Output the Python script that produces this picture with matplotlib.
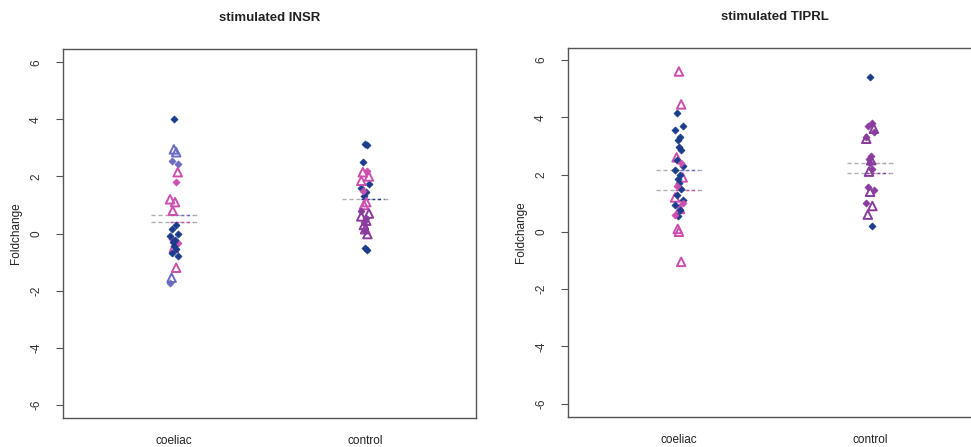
import matplotlib
matplotlib.use("Agg")
import matplotlib.pyplot as plt

plt.rcParams['font.family'] = ['Liberation Sans', 'DejaVu Sans']

groups = ["coeliac", "control"]
yticks = [-6, -4, -2, 0, 2, 4, 6]
titles = ["stimulated INSR", "stimulated TIPRL"]

# ---- INSR panel ----
insr_coeliac_navy = [4.02, 0.3, 0.15, 0.0, -0.1, -0.22, -0.3, -0.45, -0.55, -0.7, -0.8]
insr_coeliac_lavtri = [2.95, 2.85, -1.55]
insr_coeliac_lavdot = [2.55, 2.45, -1.75]
insr_coeliac_pinktri = [2.15, 1.2, 1.1, 0.8, -0.5, -1.2]
insr_coeliac_pinkdot = [1.8, -0.2, -0.35]
insr_coeliac_lines = [0.65, 0.42]

insr_control_navy = [3.15, 3.1, 2.5, 1.75, 1.6, 1.45, 1.3, -0.5, -0.58]
insr_control_pinktri = [2.15, 2.0, 1.85, 1.1, 1.0]
insr_control_pinkdot = [2.2, 1.5]
insr_control_purpletri = [0.7, 0.6, 0.45, 0.3, 0.15, -0.02]
insr_control_purpledot = [0.8, 0.55, 0.4, 0.1]
insr_control_lines = [1.2]

# ---- TIPRL panel ----
tiprl_coeliac_pinktri = [5.6, 4.45, 2.6, 1.9, 1.2, 0.8, 0.1, 0.0, -1.05]
tiprl_coeliac_navy = [4.15, 3.7, 3.55, 3.3, 3.2, 2.95, 2.85, 2.5, 2.3, 2.15, 2.0,
                      1.85, 1.7, 1.5, 1.3, 1.1, 0.95, 0.75, 0.55]
tiprl_coeliac_pinkdot = [2.4, 1.6, 1.0, 0.6]
tiprl_coeliac_lines = [2.15, 1.45]

tiprl_control_navy = [5.4, 0.2]
tiprl_control_purpledot = [3.8, 3.7, 3.5, 3.3, 2.65, 2.55, 2.4, 2.2, 1.55, 1.45, 1.0]
tiprl_control_purpletri = [3.6, 3.25, 2.5, 2.1, 1.4, 0.9, 0.6]
tiprl_control_lines = [2.4, 2.05]

NAVY = "#1b3c8c"
PINK = "#cc4fb0"
PURPLE = "#8a3c9e"
LAV = "#6a6cc0"
GREY = "#b0b0b0"

def jit(n, i0=0):
    pat = [0.0, 0.012, -0.012, 0.02, -0.02, 0.006, -0.006]
    return [pat[(i + i0) % len(pat)] for i in range(n)]

def dots(ax, xpos, vals, color, i0=0):
    xs = [xpos + j for j in jit(len(vals), i0)]
    ax.scatter(xs, vals, marker='D', s=13, color=color, edgecolors=color, linewidths=0.5, zorder=3)

def tris(ax, xpos, vals, color, i0=0):
    xs = [xpos + j for j in jit(len(vals), i0)]
    ax.scatter(xs, vals, marker='^', s=38, facecolors='none', edgecolors=color, linewidths=1.4, zorder=3)

def mlines(ax, xpos, vals, colors):
    for v, c in zip(vals, colors):
        ax.plot([xpos - 0.12, xpos + 0.12], [v, v], ls=(0, (3, 2)), color=GREY, lw=1.0, zorder=2)
        ax.plot([xpos - 0.02, xpos + 0.1], [v, v], ls=(0, (2, 2)), color=c, lw=1.0, zorder=2)

fig = plt.figure(figsize=(9.71, 4.47), dpi=100)
ax1 = fig.add_axes([63/971, 1-418/447, 413/971, 369/447])
ax2 = fig.add_axes([568/971, 1-417/447, 413/971, 369/447])

# INSR
tris(ax1, 1, insr_coeliac_lavtri, LAV)
dots(ax1, 1, insr_coeliac_lavdot, LAV, 2)
tris(ax1, 1, insr_coeliac_pinktri, PINK, 3)
dots(ax1, 1, insr_coeliac_pinkdot, PINK, 1)
dots(ax1, 1, insr_coeliac_navy, NAVY)
mlines(ax1, 1, insr_coeliac_lines, [LAV, PINK])

dots(ax1, 2, insr_control_navy, NAVY)
tris(ax1, 2, insr_control_pinktri, PINK, 2)
dots(ax1, 2, insr_control_pinkdot, PINK, 1)
tris(ax1, 2, insr_control_purpletri, PURPLE, 3)
dots(ax1, 2, insr_control_purpledot, PURPLE, 4)
mlines(ax1, 2, insr_control_lines, [NAVY])

# TIPRL
tris(ax2, 1, tiprl_coeliac_pinktri, PINK)
dots(ax2, 1, tiprl_coeliac_navy, NAVY, 2)
dots(ax2, 1, tiprl_coeliac_pinkdot, PINK, 1)
mlines(ax2, 1, tiprl_coeliac_lines, [LAV, PINK])

dots(ax2, 2, tiprl_control_navy, NAVY)
dots(ax2, 2, tiprl_control_purpledot, PURPLE, 1)
tris(ax2, 2, tiprl_control_purpletri, PURPLE, 3)
mlines(ax2, 2, tiprl_control_lines, [GREY, PURPLE])

for ax, t, ylim in [(ax1, titles[0], (-6.47, 6.47)), (ax2, titles[1], (-6.47, 6.42))]:
    ax.set_xlim(0.42, 2.58)
    ax.set_ylim(*ylim)
    ax.set_xticks([1, 2])
    ax.set_xticklabels(groups, fontsize=8.5, color="#222222")
    ax.tick_params(axis='x', length=0, pad=12)
    ax.set_yticks(yticks)
    ax.set_yticklabels([str(v) for v in yticks], rotation=90, va='center', fontsize=8.5, color="#333333")
    ax.tick_params(axis='y', length=5, width=0.8, color="#555555", pad=10)
    for s in ax.spines.values():
        s.set_color("#555555")
        s.set_linewidth(1.0)
    ax.set_ylabel("Foldchange", fontsize=8.5, color="#222222", labelpad=6)
    ax.set_title(t, fontsize=9.5, fontweight='bold', pad=20, color="#222222")

fig.savefig("out.png", dpi=100)
